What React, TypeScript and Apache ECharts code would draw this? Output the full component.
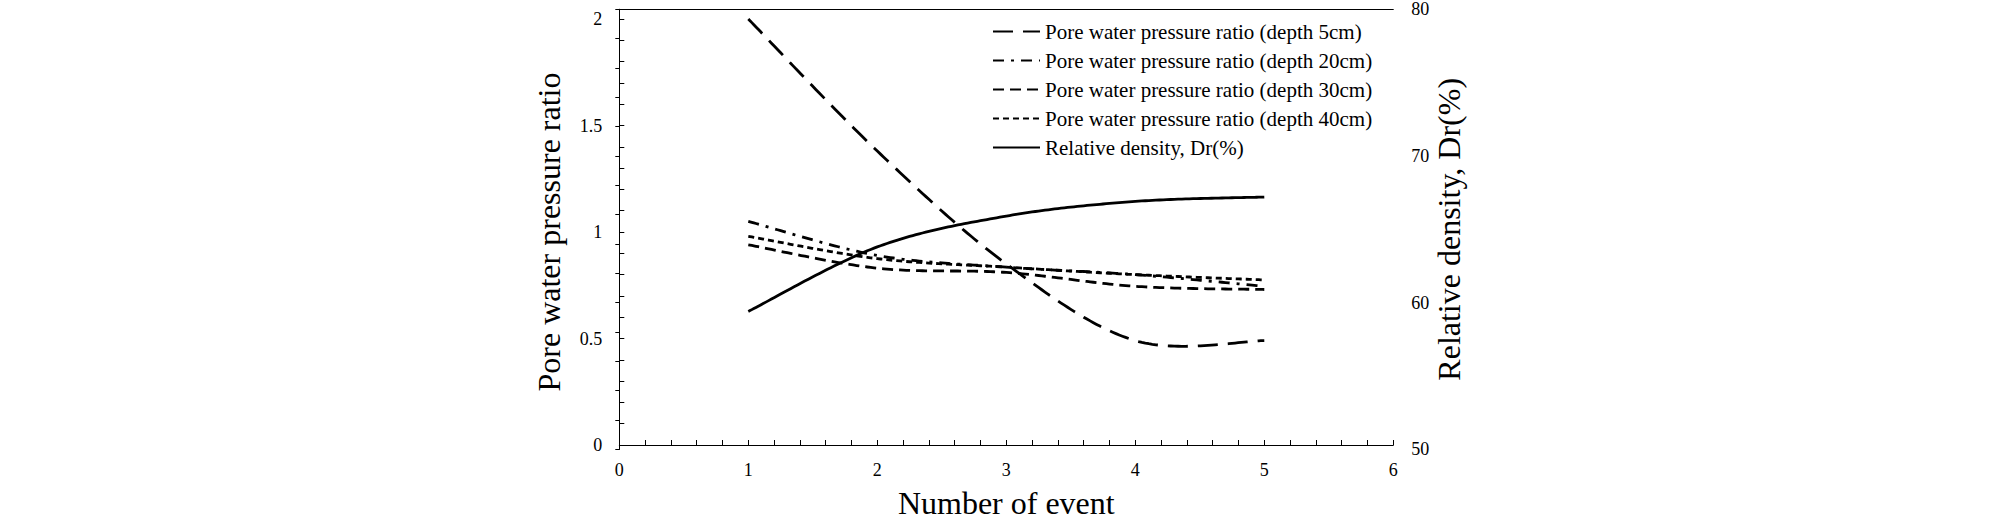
import React, { useEffect, useRef } from "react";
import * as echarts from "echarts";

// ---- data ----
const events = [1, 2, 3, 4, 5];
const depth5 = [2.0, 1.38, 0.85, 0.49, 0.49];
const depth20 = [1.05, 0.89, 0.835, 0.8, 0.745];
const depth30 = [0.94, 0.83, 0.81, 0.745, 0.73];
const depth40 = [0.98, 0.875, 0.835, 0.8, 0.775];
const density = [59.4, 63.8, 65.9, 66.9, 67.2];

const names = [
  "Pore water pressure ratio (depth 5cm)",
  "Pore water pressure ratio (depth 20cm)",
  "Pore water pressure ratio (depth 30cm)",
  "Pore water pressure ratio (depth 40cm)",
  "Relative density, Dr(%)",
];

const FONT = "'Liberation Serif', 'Times New Roman', serif";
const BLACK = "#000";
const LW = 2.8;

const pair = (vals: number[]) => events.map((x, i) => [x, vals[i]]);

// Smoothed curve (Catmull-Rom style, like a spreadsheet's smoothed line),
// computed in pixel space from the axis coordinates given by api.coord.
function smoothCurve(
  vals: number[],
  xi: number,
  yi: number,
  dash: number[] | null,
  id: string
) {
  return {
    type: "custom",
    name: id,
    coordinateSystem: "cartesian2d",
    xAxisIndex: xi,
    yAxisIndex: yi,
    silent: true,
    data: pair(vals),
    renderItem: (params: any, api: any) => {
      if (params.dataIndex !== 0) return null;
      const p: number[][] = events.map((x, i) => api.coord([x, vals[i]]));
      const n = p.length;
      const out: number[][] = [p[0]];
      for (let i = 0; i < n - 1; i++) {
        const p0 = p[Math.max(i - 1, 0)];
        const p1 = p[i];
        const p2 = p[i + 1];
        const p3 = p[Math.min(i + 2, n - 1)];
        const c1 = [p1[0] + (p2[0] - p0[0]) / 6, p1[1] + (p2[1] - p0[1]) / 6];
        const c2 = [p2[0] - (p3[0] - p1[0]) / 6, p2[1] - (p3[1] - p1[1]) / 6];
        const steps = 40;
        for (let s = 1; s <= steps; s++) {
          const t = s / steps;
          const u = 1 - t;
          const a = u * u * u;
          const b = 3 * u * u * t;
          const c = 3 * u * t * t;
          const d = t * t * t;
          out.push([
            a * p1[0] + b * c1[0] + c * c2[0] + d * p2[0],
            a * p1[1] + b * c1[1] + c * c2[1] + d * p2[1],
          ]);
        }
      }
      return {
        type: "polyline",
        shape: { points: out },
        style: {
          fill: null,
          stroke: BLACK,
          lineWidth: LW,
          lineDash: dash || undefined,
          lineCap: "butt",
          lineJoin: "round",
        },
      };
    },
  };
}

const dashes: (number[] | null)[] = [[20, 10], [11, 7, 3, 7], [11, 6], [6, 4], null];

export default function App() {
  const ref = useRef<HTMLDivElement>(null);
  useEffect(() => {
    if (!ref.current) return;
    const chart = echarts.init(ref.current, undefined, { renderer: "svg" });
    const gridL = 619.3;
    const gridR = 2008 - 1393.3;
    const gridB = 524 - 449.3;
    const axisLine = { show: true, lineStyle: { color: BLACK, width: 1 } };
    const tick = { show: true, inside: true, length: 5, lineStyle: { color: BLACK, width: 1 } };
    const minor = { show: true, splitNumber: 5, length: 5, lineStyle: { color: BLACK, width: 1 } };
    const label = { color: BLACK, fontFamily: FONT, fontSize: 18 };
    const nameStyle = { color: BLACK, fontFamily: FONT, fontSize: 32 };

    // legend-only line series (their icons carry the dash patterns)
    const legendSeries = names.map((nm, i) => ({
      type: "line",
      name: nm,
      xAxisIndex: i === 4 ? 1 : 0,
      yAxisIndex: i === 4 ? 1 : 0,
      symbol: "none",
      data: [],
      lineStyle: { color: BLACK, width: LW, type: dashes[i] || "solid", cap: "butt" },
      itemStyle: { color: BLACK },
    }));

    const curves = [
      smoothCurve(depth5, 0, 0, dashes[0], "curve5"),
      smoothCurve(depth20, 0, 0, dashes[1], "curve20"),
      smoothCurve(depth30, 0, 0, dashes[2], "curve30"),
      smoothCurve(depth40, 0, 0, dashes[3], "curve40"),
      smoothCurve(density, 1, 1, null, "curveDr"),
    ];

    chart.setOption({
      animation: false,
      backgroundColor: "#fff",
      grid: [
        { left: gridL, right: gridR, top: 19, bottom: gridB },
        { left: gridL, right: gridR, top: 9.3, bottom: gridB },
      ],
      legend: {
        orient: "vertical",
        left: 992,
        top: 21,
        padding: 0,
        itemWidth: 47,
        itemHeight: 14,
        itemGap: 8,
        itemStyle: { opacity: 0, color: "transparent", borderWidth: 0 },
        textStyle: { color: BLACK, fontFamily: FONT, fontSize: 21, lineHeight: 21 },
        data: names,
      },
      xAxis: [
        {
          type: "value",
          gridIndex: 0,
          position: "bottom",
          min: 0,
          max: 6,
          interval: 1,
          axisLine,
          axisTick: tick,
          minorTick: { ...minor },
          splitLine: { show: false },
          axisLabel: { ...label, margin: 16 },
          name: "Number of event",
          nameLocation: "middle",
          nameGap: 42,
          nameTextStyle: nameStyle,
        },
        { type: "value", gridIndex: 1, min: 0, max: 6, show: false },
        {
          type: "value",
          gridIndex: 1,
          position: "top",
          min: 0,
          max: 6,
          axisLine,
          axisTick: { show: false },
          axisLabel: { show: false },
          splitLine: { show: false },
        },
      ],
      yAxis: [
        {
          type: "value",
          gridIndex: 0,
          position: "left",
          min: 0,
          max: 2,
          interval: 0.5,
          axisLine,
          axisTick: tick,
          minorTick: { ...minor },
          splitLine: { show: false },
          axisLabel: { ...label, margin: 17 },
          name: "Pore water pressure ratio",
          nameLocation: "middle",
          nameRotate: 90,
          nameGap: 54,
          nameTextStyle: nameStyle,
        },
        {
          type: "value",
          gridIndex: 1,
          position: "right",
          min: 50,
          max: 80,
          interval: 10,
          axisLine,
          axisTick: { ...tick, length: 4 },
          minorTick: { ...minor, length: 4 },
          splitLine: { show: false },
          axisLabel: { ...label, margin: 18 },
          name: "Relative density, Dr(%)",
          nameLocation: "middle",
          nameRotate: 90,
          nameGap: 40,
          nameTextStyle: nameStyle,
        },
        {
          type: "value",
          gridIndex: 1,
          position: "left",
          min: 0,
          max: 1,
          axisLine,
          axisTick: { show: false },
          axisLabel: { show: false },
          splitLine: { show: false },
        },
      ],
      series: [...legendSeries, ...curves],
    });
    return () => chart.dispose();
  }, []);
  return (
    <div
      ref={ref}
      style={{ position: "fixed", left: 0, top: 0, width: 2008, height: 524, background: "#fff" }}
    />
  );
}
